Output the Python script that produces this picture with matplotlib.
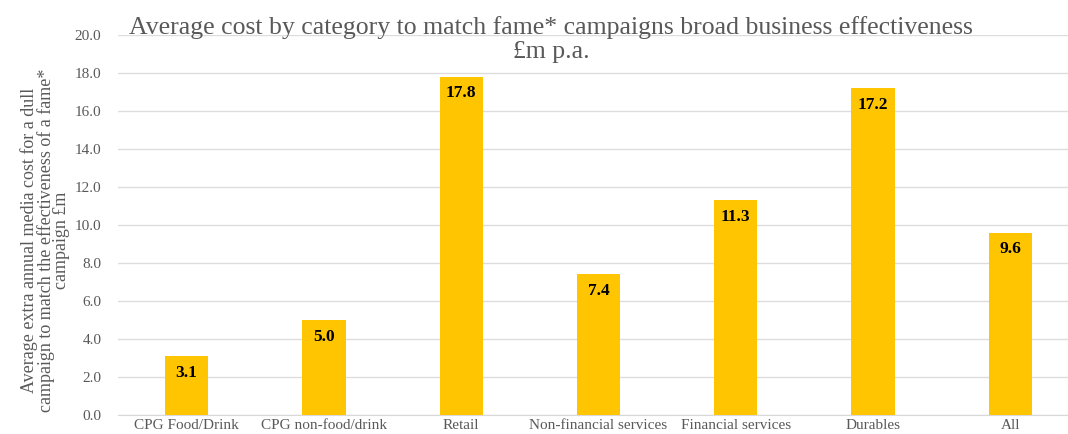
import matplotlib
matplotlib.use("Agg")
import matplotlib.pyplot as plt
import numpy as np

# data
categories = ["CPG Food/Drink", "CPG non-food/drink", "Retail",
              "Non-financial services", "Financial services", "Durables", "All"]
values = [3.1, 5.0, 17.8, 7.4, 11.3, 17.2, 9.6]
yticks = [0, 2, 4, 6, 8, 10, 12, 14, 16, 18, 20]

title = "Average cost by category to match fame* campaigns broad business effectiveness\n£m p.a."
ylabel = ("Average extra annual media cost for a dull\n"
          "campaign to match the effectiveness of a fame*\n"
          "campaign £m")

plt.rcParams['font.family'] = ['Liberation Serif', 'DejaVu Serif']
gray = '#595959'

fig = plt.figure(figsize=(10.68, 4.34), dpi=100)
ax = fig.add_axes([118 / 1068, 19 / 434, 950 / 1068, 380 / 434])

x = np.arange(len(categories))
ax.bar(x, values, width=0.315, color='#FEC500', zorder=3)

# value labels inside the top of each bar
for xi, v in zip(x, values):
    ax.text(xi, v - 0.45, f"{v:.1f}", ha='center', va='top',
            fontsize=12.5, fontweight='bold', color='black', zorder=4)

ax.set_ylim(0, 20)
ax.set_xlim(-0.5, 6.42)
ax.set_yticks(yticks)
ax.set_yticklabels([f"{t:.1f}" for t in yticks], fontsize=11, color=gray)
ax.set_xticks(x)
ax.set_xticklabels(categories, fontsize=11, color=gray)
ax.tick_params(axis='both', length=0)
ax.tick_params(axis='y', pad=12)
ax.tick_params(axis='x', pad=3)

ax.grid(axis='y', color='#DDDDDD', linewidth=1, zorder=0)
for s in ['top', 'right', 'left']:
    ax.spines[s].set_visible(False)
ax.spines['bottom'].set_color('#D9D9D9')

ax.set_ylabel(ylabel, fontsize=13, color=gray, linespacing=0.92)
ax.yaxis.set_label_coords(-0.05, 0.46)

# title: second line baseline sits ~58px from the top
fig.text(551 / 1068, 1 - 58 / 434, title, ha='center', va='baseline',
         fontsize=18.5, color=gray, linespacing=1.14)

fig.savefig("out.png", dpi=100)
